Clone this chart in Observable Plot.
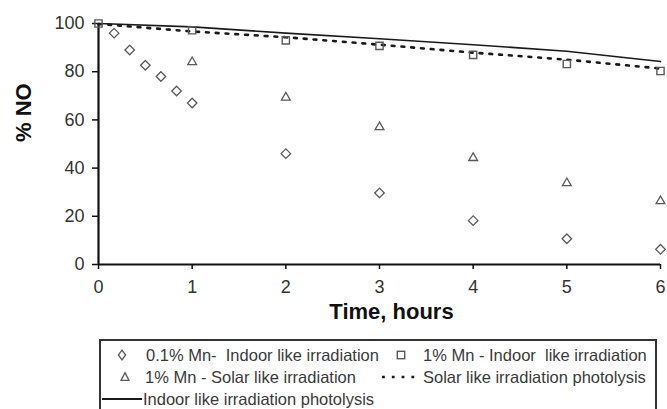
<!DOCTYPE html>
<html>
<head>
<meta charset="utf-8">
<script src="https://cdn.jsdelivr.net/npm/d3@7"></script>
<script src="https://cdn.jsdelivr.net/npm/@observablehq/plot@0.6"></script>
<style>
  body { margin: 0; background: #fff; font-family: "Liberation Sans", Arial, sans-serif; }
  #wrap { position: relative; width: 667px; height: 409px; overflow: hidden; }
  #wrap > svg { position: absolute; left: 0; top: 0; }
  #legendBox { position: absolute; left: 99px; top: 339px; width: 558px; height: 100px;
               border: 2px solid #333; box-sizing: border-box; }
  .ltext { position: absolute; font-size: 16.5px; line-height: 20px; color: #3a3a3a; white-space: pre; }
  .lsym { position: absolute; display: block; }
</style>
</head>
<body>
<div id="wrap"></div>
<script>
// ---- data ----
const diamondHours = [1/6, 2/6, 3/6, 4/6, 5/6, 1, 2, 3, 4, 5, 6];
const diamondValues = [96, 89, 82.7, 78, 72, 67, 46, 29.7, 18.2, 10.7, 6.3];
const triangleHours = [1, 2, 3, 4, 5, 6];
const triangleValues = [84, 69.3, 57, 44.2, 33.8, 26.3];
const squareHours = [0, 1, 2, 3, 4, 5, 6];
const squareValues = [100, 97.2, 93, 90.7, 87, 83.2, 80.3];
const lineHours = [0, 1, 2, 3, 4, 5, 6];
const indoorPhotolysis = [100, 98.6, 96, 93.7, 91.2, 88.5, 84.2];
const solarPhotolysis = [99.8, 96.7, 94.3, 91.2, 87.9, 85, 81.3];
const yTicks = [0, 20, 40, 60, 80, 100];
const xTicks = [0, 1, 2, 3, 4, 5, 6];
const seriesNames = [
  "0.1% Mn-  Indoor like irradiation",
  "1% Mn - Indoor  like irradiation",
  "1% Mn - Solar like irradiation",
  "Solar like irradiation photolysis",
  "Indoor like irradiation photolysis"
];
const xTitle = "Time, hours";
const yTitle = "% NO";

const toPts = (xs, ys) => xs.map((x, i) => ({x, y: ys[i]}));
const diamonds = toPts(diamondHours, diamondValues);
const triangles = toPts(triangleHours, triangleValues);
const squares = toPts(squareHours, squareValues);
const indoorLine = toPts(lineHours, indoorPhotolysis);
const solarLine = toPts(lineHours, solarPhotolysis);

const markColor = "#5a5a5a";

const chart = Plot.plot({
  width: 667,
  height: 335,
  marginLeft: 98,
  marginRight: 7,
  marginTop: 23,
  marginBottom: 71,
  style: { fontFamily: "Liberation Sans, Arial, sans-serif", fontSize: "18px", color: "#333", background: "transparent", overflow: "visible" },
  x: { domain: [0, 6], ticks: xTicks, tickFormat: d => d, label: null },
  y: { domain: [0, 100], ticks: yTicks, tickFormat: d => d, label: null },
  marks: [
    Plot.axisY({ ticks: yTicks, tickSize: 6, tickPadding: 8, stroke: "#111", strokeWidth: 1.5, fontSize: 18, fill: "#333", tickFormat: d => d }),
    Plot.axisX({ ticks: xTicks, tickSize: 5, tickPadding: 11, stroke: "#111", strokeWidth: 1.5, fontSize: 18, fill: "#333", tickFormat: d => d }),
    Plot.ruleY([0], { stroke: "#111", strokeWidth: 2.2 }),
    Plot.ruleX([0], { stroke: "#111", strokeWidth: 2.2 }),
    Plot.line(indoorLine, { x: "x", y: "y", stroke: "#1a1a1a", strokeWidth: 1.6 }),
    Plot.line(solarLine, { x: "x", y: "y", stroke: "#1a1a1a", strokeWidth: 2.6, strokeDasharray: "2.8,7" }),
    Plot.dot(diamonds, { x: "x", y: "y", symbol: "diamond2", r: 4.3, stroke: markColor, strokeWidth: 1.3, fill: "none" }),
    Plot.dot(triangles, { x: "x", y: "y", symbol: "triangle2", r: 4.2, stroke: markColor, strokeWidth: 1.3, fill: "none" }),
    Plot.dot(squares, { x: "x", y: "y", symbol: "square2", r: 4.6, stroke: markColor, strokeWidth: 1.4, fill: "none" }),
    Plot.text([yTitle], { frameAnchor: "left", dx: -75, dy: -2, rotate: -90, fontSize: 22, fontWeight: "bold", fill: "#111" }),
    Plot.text([xTitle], { frameAnchor: "bottom", dx: 12, dy: 54, fontSize: 22, fontWeight: "bold", fill: "#111" })
  ]
});

const wrap = document.getElementById("wrap");
wrap.appendChild(chart);

// ---- legend ----
const box = document.createElement("div");
box.id = "legendBox";
wrap.appendChild(box);

const ns = "http://www.w3.org/2000/svg";
function sym(kind, cx, cy) {
  const s = document.createElementNS(ns, "svg");
  let w = 14, h = 14, inner = "";
  if (kind === "diamond") inner = `<path d="M7,2.2 L10.6,7 L7,11.8 L3.4,7 Z" fill="none" stroke="${markColor}" stroke-width="1.3"/>`;
  if (kind === "square") inner = `<rect x="3.3" y="3.3" width="7.4" height="7.4" fill="none" stroke="${markColor}" stroke-width="1.4"/>`;
  if (kind === "triangle") inner = `<path d="M7,2.6 L11,10.4 L3,10.4 Z" fill="none" stroke="${markColor}" stroke-width="1.3"/>`;
  if (kind === "solid") { w = 40; inner = `<line x1="0" x2="40" y1="7" y2="7" stroke="#1a1a1a" stroke-width="2.2"/>`; }
  if (kind === "dotted") { w = 40; inner = `<line x1="2" x2="40" y1="7" y2="7" stroke="#1a1a1a" stroke-width="2.6" stroke-dasharray="2.8,7"/>`; }
  s.setAttribute("width", w); s.setAttribute("height", h);
  s.setAttribute("class", "lsym");
  s.innerHTML = inner;
  s.style.left = (cx - w / 2) + "px";
  s.style.top = (cy - h / 2) + "px";
  wrap.appendChild(s);
}
function label(text, left, cy) {
  const t = document.createElement("span");
  t.className = "ltext";
  t.textContent = text;
  t.style.left = left + "px";
  t.style.top = (cy - 10) + "px";
  wrap.appendChild(t);
}
const legendLayout = [
  { kind: "diamond", sx: 122, tx: 146, cy: 355 },
  { kind: "square", sx: 401, tx: 423, cy: 355 },
  { kind: "triangle", sx: 125, tx: 145, cy: 377 },
  { kind: "dotted", sx: 400, tx: 423, cy: 377 },
  { kind: "solid", sx: 122, tx: 143, cy: 399 }
];
legendLayout.forEach((it, i) => {
  sym(it.kind, it.sx, it.cy);
  label(seriesNames[i], it.tx, it.cy);
});
</script>
</body>
</html>
